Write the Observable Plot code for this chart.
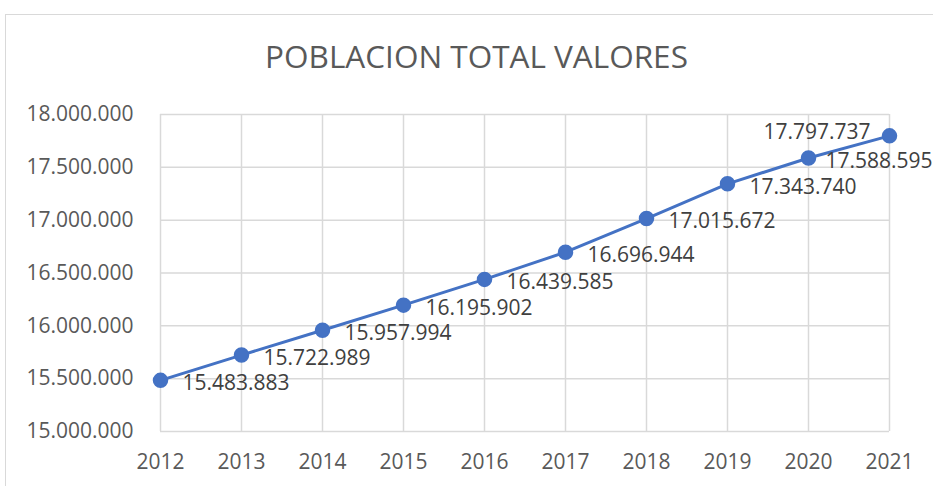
<!DOCTYPE html>
<html><head><meta charset="utf-8">
<script src="https://cdn.jsdelivr.net/npm/d3@7"></script>
<script src="https://cdn.jsdelivr.net/npm/@observablehq/plot@0.6"></script>
<style>
body{margin:0;background:#fff;font-family:"Open Sans",sans-serif;overflow:hidden;width:933px;height:486px;position:relative;}
#frame{position:absolute;left:5px;top:14px;width:1000px;height:1000px;border:1.5px solid #d9d9d9;box-sizing:border-box;}
#title{position:absolute;left:10px;top:35px;width:933px;height:42px;line-height:42px;text-align:center;font-size:31.5px;color:#595959;font-family:"Open Sans",sans-serif;}
#chart{position:absolute;left:0;top:90px;}
#chart svg{background:transparent !important;}
</style></head>
<body>
<div id="frame"></div>
<div id="title">POBLACION TOTAL VALORES</div>
<div id="chart"></div>
<script>
const years = [2012, 2013, 2014, 2015, 2016, 2017, 2018, 2019, 2020, 2021];
const population = [15483883, 15722989, 15957994, 16195902, 16439585, 16696944, 17015672, 17343740, 17588595, 17797737];
const yTicks = [15000000, 15500000, 16000000, 16500000, 17000000, 17500000, 18000000];

const data = years.map((year, i) => ({year, value: population[i]}));
const fmt = d3.formatLocale({decimal: ",", thousands: ".", grouping: [3], currency: ["", ""]}).format(",");

const plot = Plot.plot({
  width: 933,
  height: 396,
  marginTop: 24,
  marginBottom: 55,
  marginLeft: 160,
  marginRight: 44,
  style: {fontFamily: "Open Sans", fontSize: "21px", color: "#595959", background: "transparent"},
  x: {type: "linear", domain: [2012, 2021], ticks: years, tickFormat: d => String(d), label: null, tickSize: 0, tickPadding: 23},
  y: {domain: [15000000, 18000000], ticks: yTicks, tickFormat: fmt, label: null, tickSize: 0, tickPadding: 27},
  marks: [
    Plot.gridY(yTicks, {stroke: "#d9d9d9", strokeOpacity: 1, strokeWidth: 1.5}),
    Plot.gridX(years, {stroke: "#d9d9d9", strokeOpacity: 1, strokeWidth: 1.5}),
    Plot.axisX({ticks: years, tickFormat: d => String(d), tickSize: 0, tickPadding: 23, fill: "#595959", fontSize: 21}),
    Plot.axisY({ticks: yTicks, tickFormat: fmt, tickSize: 0, tickPadding: 27, fill: "#595959", fontSize: 21}),
    Plot.line(data, {x: "year", y: "value", stroke: "#4472C4", strokeWidth: 3}),
    Plot.dot(data, {x: "year", y: "value", r: 7, fill: "#4472C4", stroke: "#4472C4"}),
    Plot.text(data.filter(d => d.year <= 2019), {x: "year", y: "value", text: d => fmt(d.value), textAnchor: "start", dx: 22, dy: 3, fill: "#404040", fontSize: 21}),
    Plot.text(data.filter(d => d.year === 2020), {x: "year", y: "value", text: d => fmt(d.value), textAnchor: "start", dx: 17, dy: 3, fill: "#404040", fontSize: 21}),
    Plot.text(data.filter(d => d.year === 2021), {x: "year", y: "value", text: d => fmt(d.value), textAnchor: "end", dx: -19, dy: -4, fill: "#404040", fontSize: 21})
  ]
});
document.getElementById("chart").appendChild(plot);
</script>
</body></html>
